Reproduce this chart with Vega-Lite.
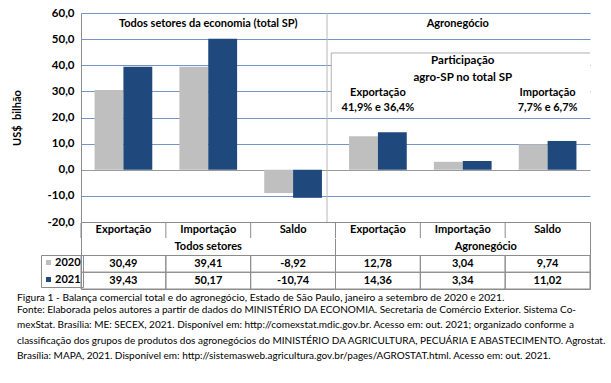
{
  "$schema": "https://vega.github.io/schema/vega-lite/v6.json",
  "background": "white",
  "padding": {"left": 11, "top": 7, "right": 5, "bottom": 5},
  "config": {
    "font": "Lato",
    "locale": {"number": {"decimal": ",", "thousands": ".", "grouping": [3], "currency": ["", ""], "minus": "-"}},
    "view": {"stroke": null},
    "text": {"font": "Lato", "fontWeight": "bold", "fontSize": 11, "color": "black"}
  },
  "datasets": {
    "d": [
      {"cat": "Todos setores|Exportação", "grupo": "Todos setores", "item": "Exportação", "ano": "2020", "valor": 30.49},
      {"cat": "Todos setores|Exportação", "grupo": "Todos setores", "item": "Exportação", "ano": "2021", "valor": 39.43},
      {"cat": "Todos setores|Importação", "grupo": "Todos setores", "item": "Importação", "ano": "2020", "valor": 39.41},
      {"cat": "Todos setores|Importação", "grupo": "Todos setores", "item": "Importação", "ano": "2021", "valor": 50.17},
      {"cat": "Todos setores|Saldo", "grupo": "Todos setores", "item": "Saldo", "ano": "2020", "valor": -8.92},
      {"cat": "Todos setores|Saldo", "grupo": "Todos setores", "item": "Saldo", "ano": "2021", "valor": -10.74},
      {"cat": "Agronegócio|Exportação", "grupo": "Agronegócio", "item": "Exportação", "ano": "2020", "valor": 12.78},
      {"cat": "Agronegócio|Exportação", "grupo": "Agronegócio", "item": "Exportação", "ano": "2021", "valor": 14.36},
      {"cat": "Agronegócio|Importação", "grupo": "Agronegócio", "item": "Importação", "ano": "2020", "valor": 3.04},
      {"cat": "Agronegócio|Importação", "grupo": "Agronegócio", "item": "Importação", "ano": "2021", "valor": 3.34},
      {"cat": "Agronegócio|Saldo", "grupo": "Agronegócio", "item": "Saldo", "ano": "2020", "valor": 9.74},
      {"cat": "Agronegócio|Saldo", "grupo": "Agronegócio", "item": "Saldo", "ano": "2021", "valor": 11.02}
    ]
  },
  "title": {
    "text": "Figura 1 - Balança comercial total e do agronegócio, Estado de São Paulo, janeiro a setembro de 2020 e 2021.",
    "subtitle": [
      "Fonte: Elaborada pelos autores a partir de dados do MINISTÉRIO DA ECONOMIA. Secretaria de Comércio Exterior. Sistema Co-",
      "mexStat. Brasília: ME: SECEX, 2021. Disponível em: http://comexstat.mdic.gov.br. Acesso em: out. 2021; organizado conforme a",
      "classificação dos grupos de produtos dos agronegócios do MINISTÉRIO DA AGRICULTURA, PECUÁRIA E ABASTECIMENTO. Agrostat.",
      "Brasília: MAPA, 2021. Disponível em: http://sistemasweb.agricultura.gov.br/pages/AGROSTAT.html. Acesso em: out. 2021."
    ],
    "orient": "bottom",
    "anchor": "start",
    "frame": "bounds",
    "dx": 6,
    "font": "Lato",
    "fontSize": 10.2,
    "fontWeight": "normal",
    "color": "black",
    "subtitleFont": "Lato",
    "subtitleFontSize": 10,
    "subtitleColor": "black",
    "subtitleLineHeight": 15.2,
    "subtitlePadding": 2,
    "offset": 3
  },
  "bounds": "flush",
  "spacing": 0,
  "resolve": {"scale": {"color": "independent", "x": "independent", "y": "independent"}, "legend": {"color": "independent"}},
  "vconcat": [
    {
      "width": 509,
      "height": 209,
      "data": {"name": "d"},
      "layer": [
        {
          "mark": {"type": "bar"},
          "encoding": {
            "x": {"field": "cat", "type": "nominal", "sort": null, "axis": null,
                  "scale": {"domain": ["Todos setores|Exportação", "Todos setores|Importação", "Todos setores|Saldo", "Agronegócio|Exportação", "Agronegócio|Importação", "Agronegócio|Saldo"], "paddingInner": 0, "paddingOuter": 0}},
            "xOffset": {"field": "ano", "type": "nominal", "scale": {"paddingInner": 0, "paddingOuter": 0.47}},
            "y": {"field": "valor", "type": "quantitative",
                  "scale": {"domain": [-20, 60], "nice": false, "zero": false},
                  "axis": {
                    "title": "US$\u00a0\u00a0bilhão",
                    "titleFont": "Lato", "titleFontSize": 11, "titleFontWeight": "bold", "titleColor": "black", "titlePadding": 25,
                    "values": [-20, -10, 0, 10, 20, 30, 40, 50, 60],
                    "tickCount": 20,
                    "format": ".1f",
                    "labelOverlap": false,
                    "labelFont": "Lato", "labelFontSize": 11.5, "labelFontWeight": "bold", "labelColor": "black", "labelPadding": 7,
                    "ticks": false,
                    "domainColor": "#8c8c8c",
                    "grid": true,
                    "gridColor": {"condition": {"test": "datum.value === 0", "value": "#9a9a9a"}, "value": "#7595c6"},
                    "gridWidth": 1
                  }},
            "color": {"field": "ano", "type": "nominal", "scale": {"domain": ["2020", "2021"], "range": ["#bfbfbf", "#1f497d"]}, "legend": null}
          }
        },
        {
          "data": {"values": [{}]},
          "mark": {"type": "rect", "fill": "white"},
          "encoding": {
            "x": {"datum": "Todos setores|Saldo", "type": "nominal", "bandPosition": 0.95},
            "x2": {"value": "width"},
            "y": {"datum": 44.7, "type": "quantitative"},
            "y2": {"datum": 22.1}
          }
        },
        {
          "data": {"values": [{}]},
          "mark": {"type": "rule", "color": "#b0b0b0", "strokeWidth": 1},
          "encoding": {
            "x": {"datum": "Todos setores|Saldo", "type": "nominal", "bandPosition": 0.95},
            "x2": {"value": "width"},
            "y": {"datum": 44.7, "type": "quantitative"}
          }
        },
        {
          "data": {"values": [{}]},
          "mark": {"type": "rule", "color": "#b0b0b0", "strokeWidth": 1},
          "encoding": {
            "x": {"datum": "Todos setores|Saldo", "type": "nominal", "bandPosition": 0.95},
            "y": {"datum": 44.7, "type": "quantitative"},
            "y2": {"datum": 22.1}
          }
        },
        {
          "data": {"values": [{}]},
          "mark": {"type": "rule", "color": "#b8b8b8", "strokeWidth": 1},
          "encoding": {
            "x": {"datum": "Todos setores|Saldo", "type": "nominal", "bandPosition": 0.9}
          }
        },
        {
          "data": {"values": [{}]},
          "mark": {"type": "text", "baseline": "middle"},
          "encoding": {
            "x": {"datum": "Todos setores|Importação", "type": "nominal"},
            "y": {"datum": 55.8, "type": "quantitative"},
            "text": {"value": "Todos setores da economia (total SP)"}
          }
        },
        {
          "data": {"values": [{}]},
          "mark": {"type": "text", "baseline": "middle", "dx": -5},
          "encoding": {
            "x": {"datum": "Agronegócio|Importação", "type": "nominal"},
            "y": {"datum": 55.8, "type": "quantitative"},
            "text": {"value": "Agronegócio"}
          }
        },
        {
          "data": {"values": [{}]},
          "mark": {"type": "text", "baseline": "middle", "fontSize": 11.5},
          "encoding": {
            "x": {"datum": "Agronegócio|Importação", "type": "nominal"},
            "y": {"datum": 41.6, "type": "quantitative"},
            "text": {"value": "Participação"}
          }
        },
        {
          "data": {"values": [{}]},
          "mark": {"type": "text", "baseline": "middle", "fontSize": 11.5},
          "encoding": {
            "x": {"datum": "Agronegócio|Importação", "type": "nominal"},
            "y": {"datum": 35.1, "type": "quantitative"},
            "text": {"value": "agro-SP no total SP"}
          }
        },
        {
          "data": {"values": [{}]},
          "mark": {"type": "text", "baseline": "middle", "fontSize": 11},
          "encoding": {
            "x": {"datum": "Agronegócio|Exportação", "type": "nominal"},
            "y": {"datum": 29.4, "type": "quantitative"},
            "text": {"value": "Exportação"}
          }
        },
        {
          "data": {"values": [{}]},
          "mark": {"type": "text", "baseline": "middle", "fontSize": 11},
          "encoding": {
            "x": {"datum": "Agronegócio|Exportação", "type": "nominal"},
            "y": {"datum": 23.6, "type": "quantitative"},
            "text": {"value": "41,9% e 36,4%"}
          }
        },
        {
          "data": {"values": [{}]},
          "mark": {"type": "text", "baseline": "middle", "fontSize": 11},
          "encoding": {
            "x": {"datum": "Agronegócio|Saldo", "type": "nominal"},
            "y": {"datum": 29.4, "type": "quantitative"},
            "text": {"value": "Importação"}
          }
        },
        {
          "data": {"values": [{}]},
          "mark": {"type": "text", "baseline": "middle", "fontSize": 11},
          "encoding": {
            "x": {"datum": "Agronegócio|Saldo", "type": "nominal"},
            "y": {"datum": 23.6, "type": "quantitative"},
            "text": {"value": "7,7% e 6,7%"}
          }
        }
      ]
    },
    {
      "width": 509,
      "height": 67,
      "view": {"stroke": "#8c8c8c"},
      "data": {"name": "d"},
      "layer": [
        {
          "mark": {"type": "rect", "fill": "transparent", "stroke": "#8c8c8c", "strokeWidth": 1},
          "encoding": {
            "x": {"field": "cat", "type": "nominal", "sort": null, "axis": null,
                  "scale": {"domain": ["Todos setores|Exportação", "Todos setores|Importação", "Todos setores|Saldo", "Agronegócio|Exportação", "Agronegócio|Importação", "Agronegócio|Saldo"], "paddingInner": 0, "paddingOuter": 0}},
            "y": {"field": "ano", "type": "nominal", "axis": null,
                  "scale": {"domain": ["h", "g", "2020", "2021"], "paddingInner": 0, "paddingOuter": 0}}
          }
        },
        {
          "transform": [{"filter": "datum.ano === '2020'"}],
          "mark": {"type": "tick", "orient": "vertical", "size": 15, "thickness": 1, "color": "#8c8c8c", "opacity": 1},
          "encoding": {
            "x": {"field": "cat", "type": "nominal", "bandPosition": 0},
            "y": {"datum": "h", "type": "nominal"}
          }
        },
        {
          "transform": [{"filter": "datum.ano === '2020' && datum.cat === 'Agronegócio|Exportação'"}],
          "mark": {"type": "tick", "orient": "vertical", "size": 17, "thickness": 1, "color": "#8c8c8c", "opacity": 1},
          "encoding": {
            "x": {"field": "cat", "type": "nominal", "bandPosition": 0},
            "y": {"datum": "g", "type": "nominal"}
          }
        },
        {
          "transform": [{"filter": "datum.ano === '2020'"}],
          "mark": {"type": "text", "baseline": "middle", "fontSize": 11},
          "encoding": {
            "x": {"field": "cat", "type": "nominal"},
            "y": {"datum": "h", "type": "nominal"},
            "text": {"field": "item"}
          }
        },
        {
          "transform": [{"filter": "datum.ano === '2020' && datum.cat === 'Todos setores|Importação'"}],
          "mark": {"type": "text", "baseline": "middle", "fontSize": 11},
          "encoding": {
            "x": {"field": "cat", "type": "nominal"},
            "y": {"datum": "g", "type": "nominal"},
            "text": {"field": "grupo"}
          }
        },
        {
          "transform": [{"filter": "datum.ano === '2020' && datum.cat === 'Agronegócio|Importação'"}],
          "mark": {"type": "text", "baseline": "middle", "fontSize": 11, "dx": 23},
          "encoding": {
            "x": {"field": "cat", "type": "nominal"},
            "y": {"datum": "g", "type": "nominal"},
            "text": {"field": "grupo"}
          }
        },
        {
          "mark": {"type": "text", "baseline": "middle", "fontSize": 11},
          "encoding": {
            "x": {"field": "cat", "type": "nominal"},
            "y": {"field": "ano", "type": "nominal"},
            "text": {"field": "valor", "type": "quantitative", "format": ",.2f"}
          }
        },
        {
          "mark": {"type": "square", "opacity": 0},
          "encoding": {
            "x": {"field": "cat", "type": "nominal"},
            "y": {"field": "ano", "type": "nominal"},
            "color": {"field": "ano", "type": "nominal",
                      "scale": {"domain": ["2020", "2021"], "range": ["#bfbfbf", "#1f497d"]},
                      "legend": {"orient": "none", "legendX": -40, "legendY": 33, "title": null,
                                 "symbolType": "square", "symbolSize": 25, "symbolOpacity": 1, "symbolStrokeWidth": 0,
                                 "labelFont": "Lato", "labelFontWeight": "bold", "labelFontSize": 11, "labelColor": "black",
                                 "labelBaseline": "middle", "labelOffset": 1, "rowPadding": 5, "padding": 2, "strokeColor": "#8c8c8c"}}
          }
        }
      ]
    }
  ]
}
